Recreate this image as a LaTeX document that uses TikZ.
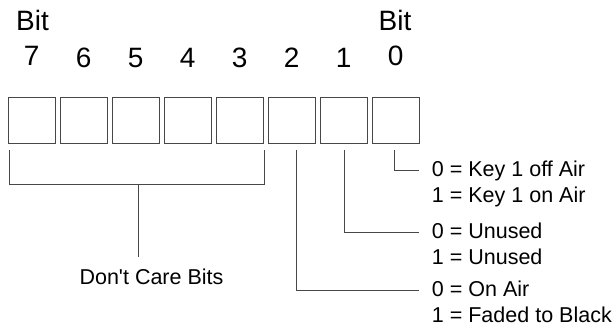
\documentclass[tikz,border=0pt]{standalone}
\usepackage{fontspec}
\setmainfont{Liberation Sans}[Ligatures=TeXOff]
\begin{document}
\begin{tikzpicture}[x=1pt,y=-1pt,
  bitbox/.style={draw=black!72,line width=0.9pt,minimum width=47.5pt,minimum height=46pt,inner sep=0pt},
  conn/.style={draw=black!72,line width=0.9pt},
  biglbl/.style={font=\fontsize{28}{32}\selectfont,inner sep=0pt,anchor=base},
  lbl/.style={font=\fontsize{21.5}{25.5}\selectfont,inner sep=0pt,anchor=base west,text height=12.5pt,text depth=0pt},
  dclbl/.style={font=\fontsize{21.5}{25.5}\selectfont,inner sep=0pt,anchor=base,text height=15.4pt,text depth=0pt}]
\useasboundingbox (0,0) rectangle (615,328);
% boxes
\foreach \b [count=\i from 0] in {7,6,5,4,3,2,1,0}{
  \node[bitbox] (b\b) at ({31.75+52*\i},120.5) {};
}
% top labels
\node[biglbl] (bt7) at (32.5,31) {Bit};
\node[biglbl] (bt0) at (395,31) {Bit};
\node[biglbl] (d7) at (b7 |- 0,65.5) {7};
\foreach \b in {6,5,4,3,2,1}{
  \node[biglbl] (d\b) at (b\b |- 0,68) {\b};
}
\node[biglbl] (d0) at (b0 |- 0,65.5) {0};
% right labels
\node[lbl] (k0) at (431.7,176.7) {0 = Key 1 off Air};
\node[lbl] (k1) at (431.7,202.3) {1 = Key 1 on Air};
\node[lbl] (u0) at (431.7,239) {0 = Unused};
\node[lbl] (u1) at (431.7,264.5) {1 = Unused};
\node[lbl] (a0) at (431.7,296.7) {0 = On Air};
\node[lbl] (a1) at (431.7,322.3) {1 = Faded to Black};
\node[dclbl] (dc) at (151.5,284) {Don't Care Bits};
% connectors
\draw[conn] ([xshift=-1pt,yshift=-6pt]b0.south) |- ([xshift=-13pt]k0.west);
\draw[conn] ([xshift=0.5pt,yshift=-6pt]b1.south) |- ([xshift=-13pt]u0.west);
\draw[conn] ([xshift=4.5pt,yshift=-6pt]b2.south) |- ([xshift=-13pt]a0.west);
\draw[conn] ([xshift=2pt,yshift=-6pt]b7.south west) -- ++(0,35) coordinate (bl) -| ([yshift=-6pt]b3.south east);
\coordinate (bm) at (138,0 |- bl);
\draw[conn,shorten >=11.5pt] (bm) -- (bm |- dc.north);
\end{tikzpicture}
\end{document}
